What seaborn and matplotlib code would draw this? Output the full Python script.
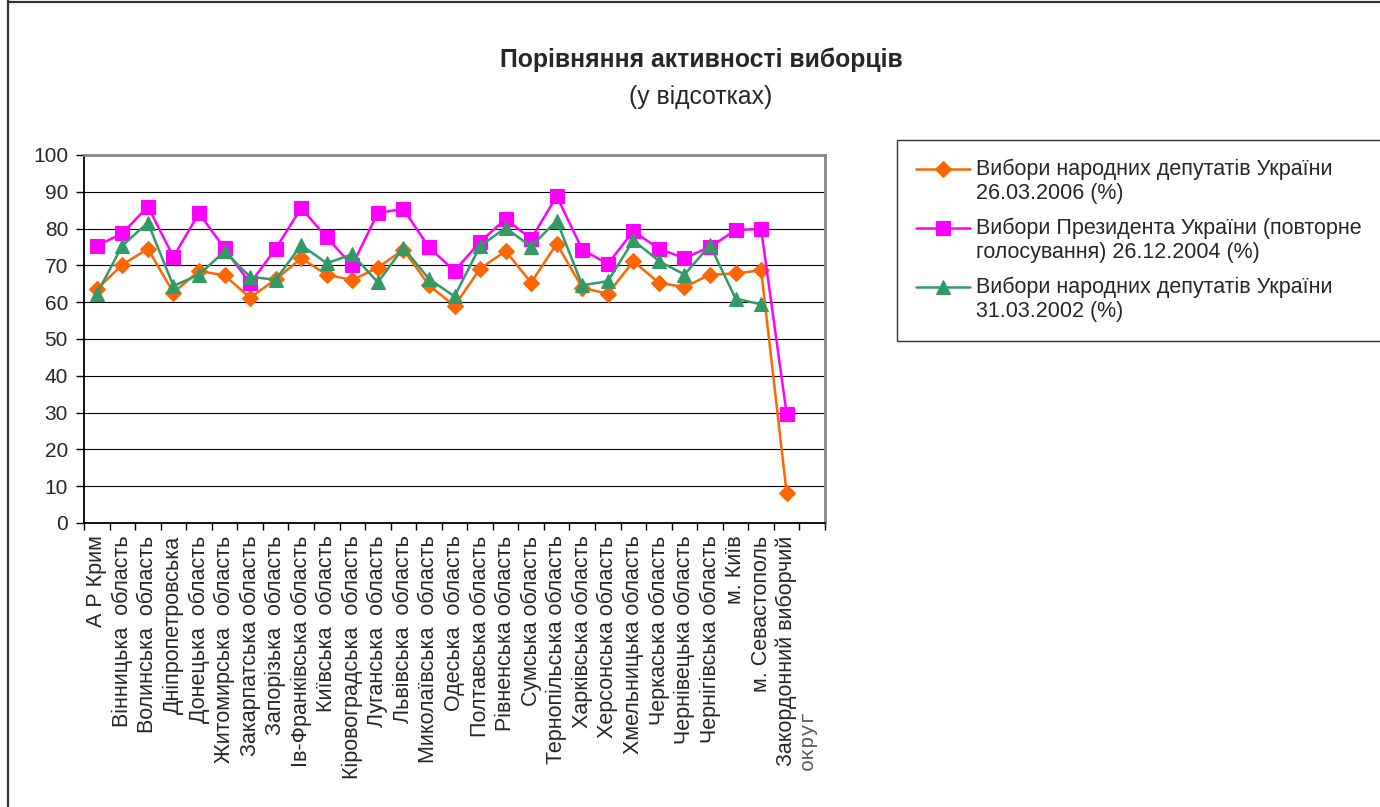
import numpy as np
import pandas as pd
import matplotlib
matplotlib.use("Agg")
import matplotlib.pyplot as plt
import seaborn as sns
from matplotlib.lines import Line2D
from matplotlib.legend_handler import HandlerLine2D

# regions (category axis)
regions = [
    "А Р Крим", "Вінницька  область", "Волинська  область", "Дніпропетровська",
    "Донецька  область", "Житомирська  область", "Закарпатська область",
    "Запорізька  область", "Ів-Франківська область", "Київська  область",
    "Кіровоградська  область", "Луганська  область", "Львівська  область",
    "Миколаївська  область", "Одеська  область", "Полтавська область",
    "Рівненська область", "Сумська область", "Тернопільська область",
    "Харківська область", "Херсонська область", "Хмельницька область",
    "Черкаська область", "Чернівецька область", "Чернігівська область",
    "м. Київ", "м. Севастополь", "Закордонний виборчий округ",
]

# turnout, %
vote_2006 = [63.5, 70.2, 74.5, 62.6, 68.5, 67.3, 61.2, 66.2, 71.9, 67.5,
             66.0, 69.4, 74.3, 64.6, 59.0, 69.1, 73.9, 65.3, 75.9, 63.9,
             62.3, 71.1, 65.3, 64.1, 67.5, 67.8, 68.7, 8.1]
vote_2004 = [75.3, 78.7, 86.0, 72.3, 84.2, 74.6, 65.1, 74.5, 85.6, 77.6,
             70.0, 84.3, 85.3, 74.9, 68.5, 76.4, 82.6, 77.2, 88.8, 74.3,
             70.4, 79.3, 74.5, 72.0, 75.0, 79.6, 79.9, 29.6]
vote_2002 = [62.2, 75.4, 81.6, 64.4, 67.5, 73.8, 66.9, 66.1, 75.5, 70.6,
             73.0, 65.4, 74.8, 66.3, 61.6, 75.2, 80.2, 75.1, 82.2, 64.6,
             65.7, 76.8, 71.2, 67.5, 75.5, 61.0, 59.4, np.nan]

series_labels = [
    "Вибори народних депутатів України\n26.03.2006 (%)",
    "Вибори Президента України (повторне\nголосування) 26.12.2004 (%)",
    "Вибори народних депутатів України\n31.03.2002 (%)",
]


class FirstLineHandler(HandlerLine2D):
    # put the legend handle next to the first line of a two-line label
    def create_artists(self, legend, orig_handle, xdescent, ydescent,
                       width, height, fontsize, trans):
        return super().create_artists(legend, orig_handle, xdescent,
                                      ydescent - 1.2 * fontsize, width, height,
                                      fontsize, trans)


sns.set_theme(style="white")
plt.rcParams['font.family'] = ['Liberation Sans', 'DejaVu Sans']

W, H = 1380, 807
fig = plt.figure(figsize=(W / 100, H / 100), dpi=100)
ax = fig.add_axes([84 / W, 1 - 523 / H, 741 / W, 368 / H])

df = pd.DataFrame({
    'pos': np.arange(len(regions)) + 0.5,
    'v2006': vote_2006,
    'v2004': vote_2004,
    'v2002': vote_2002,
})

styles = [
    ('v2006', '#FF6600', 'D', 8),
    ('v2004', '#FF00FF', 's', 10),
    ('v2002', '#339966', '^', 10),
]
for (col, color, marker, ms), lab in zip(styles, series_labels):
    sns.lineplot(data=df, x='pos', y=col, color=color, marker=marker,
                 markersize=ms, markeredgecolor=color, markeredgewidth=0.8,
                 linewidth=1.8, label=lab, legend=False, ax=ax)

ax.set_xlabel('')
ax.set_ylabel('')
ax.set_xlim(0, len(regions) + 1)
ax.set_ylim(0, 100)
ax.set_yticks(range(0, 101, 10))
ax.yaxis.grid(True, color='black', linewidth=0.8)
ax.set_axisbelow(True)

tick_labels = regions[:-1] + ["Закордонний виборчий"]
ax.set_xticks(df['pos'])
ax.set_xticklabels(tick_labels, rotation=90, fontsize=15.5)
ax.set_xticks(np.arange(0, len(regions) + 2), minor=True)
ax.tick_params(axis='x', which='major', length=0, pad=9, bottom=True)
ax.tick_params(axis='x', which='minor', length=5, width=1, color='black', bottom=True)
ax.tick_params(axis='y', length=5.5, width=1, color='black', pad=6, left=True, labelsize=15)
ax.annotate("округ", xy=(len(regions) + 0.3, 0), xycoords=('data', 'axes fraction'),
            xytext=(0, -247 * 0.72), textcoords='offset points', rotation=90,
            ha='center', va='bottom', fontsize=14.5, color='#555555',
            family=['Liberation Mono', 'DejaVu Sans Mono'])

for side in ['left', 'bottom']:
    ax.spines[side].set_color('black')
    ax.spines[side].set_linewidth(1.3)
for side in ['top', 'right']:
    ax.spines[side].set_color('#888888')
    ax.spines[side].set_linewidth(2)

# chart area border
fig.add_artist(Line2D([8 / W, 8 / W], [0, 1], transform=fig.transFigure, color='#333333', lw=1.6))
fig.add_artist(Line2D([8 / W, 1], [1 - 1.5 / H, 1 - 1.5 / H], transform=fig.transFigure, color='#333333', lw=1.6))

fig.text(701 / W, 1 - 60 / H, "Порівняння активності виборців", ha='center', va='center',
         fontsize=17.8, fontweight='bold')
fig.text(701 / W, 1 - 97 / H, "(у відсотках)", ha='center', va='center', fontsize=17.8)

handles, labels = ax.get_legend_handles_labels()
leg = fig.legend(handles, labels, loc='upper left', bbox_to_anchor=(897 / W, 1 - 139.5 / H),
                 frameon=True, fancybox=False, edgecolor='black', fontsize=15.5,
                 borderpad=0.9, borderaxespad=0, handlelength=2.5, handletextpad=0.25,
                 labelspacing=0.62, handler_map={Line2D: FirstLineHandler()})
leg.get_frame().set_linewidth(1.0)

fig.savefig('out.png', dpi=100, facecolor='white')
